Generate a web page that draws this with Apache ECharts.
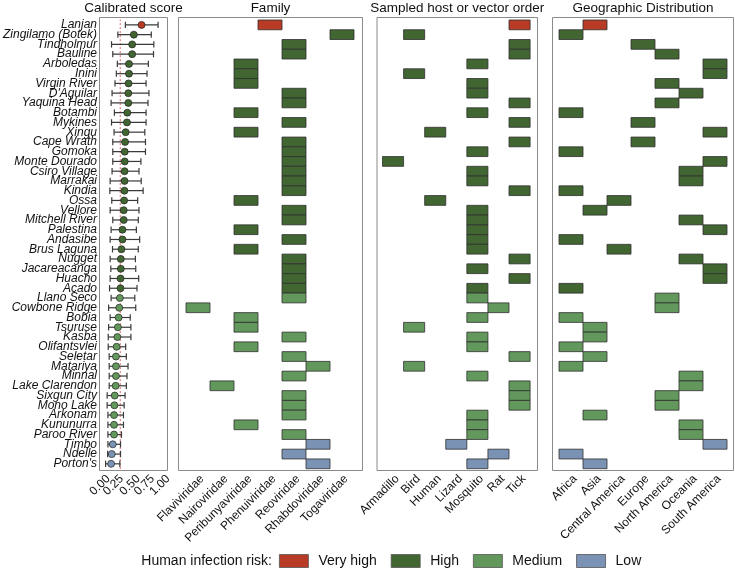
<!DOCTYPE html>
<html>
<head>
<meta charset="utf-8">
<script src="https://cdn.jsdelivr.net/npm/echarts@6/dist/echarts.min.js"></script>
<style>
  html, body { margin: 0; padding: 0; background: #fff; }
  #chart { width: 735px; height: 570px; }
</style>
</head>
<body>
<div id="chart"></div>
<script>
const viruses = ['Lanjan', 'Zingilamo (Botek)', 'Tindholmur', 'Bauline', 'Arboledas', 'Inini', 'Virgin River',
  "D'Aguilar", 'Yaquina Head', 'Botambi', 'Mykines', 'Xingu', 'Cape Wrath', 'Gomoka', 'Monte Dourado',
  'Csiro Village', 'Marrakai', 'Kindia', 'Ossa', 'Vellore', 'Mitchell River', 'Palestina', 'Andasibe',
  'Brus Laguna', 'Nugget', 'Jacareacanga', 'Huacho', 'Acado', 'Llano Seco', 'Cowbone Ridge', 'Bobia',
  'Tsuruse', 'Kasba', 'Olifantsvlei', 'Seletar', 'Matariya', 'Minnal', 'Lake Clarendon', 'Sixgun City',
  'Mono Lake', 'Arkonam', 'Kununurra', 'Paroo River', 'Timbo', 'Ndelle', "Porton's"];

const riskLevels = ['Very high', 'High', 'Medium', 'Low'];
const riskColors = ['#b83b26', '#416631', '#62985b', '#7a93b5'];

const virusRisk = ['Very high',
  'High', 'High', 'High', 'High', 'High', 'High', 'High', 'High', 'High', 'High', 'High', 'High', 'High', 'High',
  'High', 'High', 'High', 'High', 'High', 'High', 'High', 'High', 'High', 'High', 'High', 'High', 'High',
  'Medium', 'Medium', 'Medium', 'Medium', 'Medium', 'Medium', 'Medium', 'Medium', 'Medium', 'Medium', 'Medium',
  'Medium', 'Medium', 'Medium', 'Medium',
  'Low', 'Low', 'Low'];

const scoreMid = [0.626, 0.497, 0.469, 0.469, 0.416, 0.416, 0.409, 0.405, 0.405, 0.388, 0.383, 0.361, 0.351, 0.345,
  0.345, 0.342, 0.342, 0.340, 0.335, 0.328, 0.328, 0.307, 0.307, 0.291, 0.280, 0.280, 0.275, 0.275, 0.264, 0.254,
  0.243, 0.231, 0.222, 0.210, 0.199, 0.199, 0.199, 0.194, 0.178, 0.173, 0.167, 0.167, 0.167, 0.146, 0.129, 0.118];
const scoreLow = [0.356, 0.231, 0.125, 0.146, 0.222, 0.205, 0.183, 0.134, 0.118, 0.173, 0.125, 0.167, 0.146, 0.146,
  0.146, 0.134, 0.102, 0.097, 0.129, 0.102, 0.146, 0.118, 0.102, 0.141, 0.102, 0.113, 0.102, 0.092, 0.118, 0.076,
  0.102, 0.076, 0.070, 0.070, 0.086, 0.086, 0.086, 0.086, 0.052, 0.052, 0.065, 0.065, 0.065, 0.065, 0.060, 0.026];
const scoreHigh = [0.901, 0.788, 0.830, 0.825, 0.739, 0.717, 0.701, 0.749, 0.733, 0.701, 0.701, 0.680, 0.691, 0.691,
  0.615, 0.583, 0.620, 0.652, 0.561, 0.583, 0.571, 0.539, 0.594, 0.571, 0.523, 0.529, 0.578, 0.550, 0.513, 0.529,
  0.437, 0.448, 0.448, 0.361, 0.372, 0.400, 0.383, 0.372, 0.351, 0.335, 0.324, 0.324, 0.291, 0.275, 0.275, 0.264];
const thresholdScore = 0.27;

const families = ['Flaviviridae', 'Nairoviridae', 'Peribunyaviridae', 'Phenuiviridae', 'Reoviridae', 'Rhabdoviridae', 'Togaviridae'];
const virusFamily = ['Phenuiviridae', 'Togaviridae', 'Reoviridae', 'Reoviridae', 'Peribunyaviridae', 'Peribunyaviridae',
  'Peribunyaviridae', 'Reoviridae', 'Reoviridae', 'Peribunyaviridae', 'Reoviridae', 'Peribunyaviridae', 'Reoviridae',
  'Reoviridae', 'Reoviridae', 'Reoviridae', 'Reoviridae', 'Reoviridae', 'Peribunyaviridae', 'Reoviridae', 'Reoviridae',
  'Peribunyaviridae', 'Reoviridae', 'Peribunyaviridae', 'Reoviridae', 'Reoviridae', 'Reoviridae', 'Reoviridae',
  'Reoviridae', 'Flaviviridae', 'Peribunyaviridae', 'Peribunyaviridae', 'Reoviridae', 'Peribunyaviridae', 'Reoviridae',
  'Rhabdoviridae', 'Reoviridae', 'Nairoviridae', 'Reoviridae', 'Reoviridae', 'Reoviridae', 'Peribunyaviridae',
  'Reoviridae', 'Rhabdoviridae', 'Reoviridae', 'Rhabdoviridae'];

const hosts = ['Armadillo', 'Bird', 'Human', 'Lizard', 'Mosquito', 'Rat', 'Tick'];
const virusHost = ['Tick', 'Bird', 'Tick', 'Tick', 'Mosquito', 'Bird', 'Mosquito', 'Mosquito', 'Tick', 'Mosquito',
  'Tick', 'Human', 'Tick', 'Mosquito', 'Armadillo', 'Mosquito', 'Mosquito', 'Tick', 'Human', 'Mosquito', 'Mosquito',
  'Mosquito', 'Mosquito', 'Mosquito', 'Tick', 'Mosquito', 'Tick', 'Mosquito', 'Mosquito', 'Rat', 'Mosquito', 'Bird',
  'Mosquito', 'Mosquito', 'Tick', 'Bird', 'Mosquito', 'Tick', 'Tick', 'Tick', 'Mosquito', 'Mosquito', 'Mosquito',
  'Lizard', 'Rat', 'Mosquito'];

const regions = ['Africa', 'Asia', 'Central America', 'Europe', 'North America', 'Oceania', 'South America'];
const virusRegion = ['Asia', 'Africa', 'Europe', 'North America', 'South America', 'South America', 'North America',
  'Oceania', 'North America', 'Africa', 'Europe', 'South America', 'Europe', 'Africa', 'South America', 'Oceania',
  'Oceania', 'Africa', 'Central America', 'Asia', 'Oceania', 'South America', 'Africa', 'Central America', 'Oceania',
  'South America', 'South America', 'Africa', 'North America', 'North America', 'Africa', 'Asia', 'Asia', 'Africa',
  'Asia', 'Africa', 'Oceania', 'Oceania', 'North America', 'North America', 'Asia', 'Oceania', 'Oceania',
  'South America', 'Africa', 'Asia'];

const FONT = "'Liberation Sans', Arial, Helvetica, sans-serif";
const TEXT = '#111';

const chart = echarts.init(document.getElementById('chart'));

// panel areas (grid = where the rows/columns sit, box = the drawn frame)
const rowTop = 20, rowHeight = 448.7;
const scoreLeft = 102, scoreWidth = 62;   // pixel span of score 0..1
const panels = [
  { grid: { left: scoreLeft, width: scoreWidth }, box: [99.5, 17.5, 68, 453], title: 'Calibrated score' },
  { grid: { left: 186, width: 168 }, box: [178.5, 17.5, 184, 453], title: 'Family' },
  { grid: { left: 382.5, width: 147.6 }, box: [377, 17.5, 160.5, 453], title: 'Sampled host or vector order' },
  { grid: { left: 559, width: 168 }, box: [552.5, 17.5, 181, 453], title: 'Geographic Distribution' }
];

// rotated labels hang from their top-right corner, like ggplot's hjust = 1, vjust = 1
const catLabel = {
  rotate: 45, interval: 0, margin: 4, verticalAlign: 'top',
  fontSize: 12, color: TEXT, fontFamily: FONT
};
const scoreLabel = {
  rotate: 45, margin: 4, verticalAlign: 'top', fontSize: 12, color: TEXT, fontFamily: FONT,
  showMinLabel: true, showMaxLabel: true,
  formatter: v => (v >= 0 && v <= 1) ? v.toFixed(2) : ''
};

function renderTile(params, api) {
  const c = api.coord([api.value(0), api.value(1)]);
  const s = api.size([1, 1]);
  return {
    type: 'rect',
    shape: { x: c[0] - s[0] / 2, y: c[1] - s[1] / 2, width: s[0], height: s[1] },
    style: { fill: api.visual('color'), stroke: '#2e2e2e', lineWidth: 0.8 }
  };
}

function renderErrorBar(params, api) {
  const a = api.coord([api.value(0), api.value(2)]);
  const b = api.coord([api.value(1), api.value(2)]);
  const h = 3.2;
  const st = { stroke: '#3a3a3a', lineWidth: 1.2 };
  return {
    type: 'group',
    children: [
      { type: 'line', shape: { x1: a[0], y1: a[1], x2: b[0], y2: b[1] }, style: st },
      { type: 'line', shape: { x1: a[0], y1: a[1] - h, x2: a[0], y2: a[1] + h }, style: st },
      { type: 'line', shape: { x1: b[0], y1: b[1] - h, x2: b[0], y2: b[1] + h }, style: st }
    ]
  };
}

const series = [];

// dashed threshold line, drawn from the score axis
series.push({
  type: 'line',
  name: 'threshold',
  xAxisIndex: 0,
  yAxisIndex: 0,
  symbol: 'none',
  silent: true,
  z: 1,
  lineStyle: { color: '#e0675e', type: [2, 2], width: 1 },
  data: [[thresholdScore, -0.8], [thresholdScore, viruses.length - 0.3]]
});

series.push({
  type: 'custom',
  name: 'interval',
  xAxisIndex: 0,
  yAxisIndex: 0,
  renderItem: renderErrorBar,
  encode: { x: [0, 1], y: 2 },
  data: viruses.map((v, i) => [scoreLow[i], scoreHigh[i], i]),
  z: 2
});

riskLevels.forEach((lvl, r) => {
  const idx = viruses.map((v, i) => i).filter(i => virusRisk[i] === lvl);
  series.push({
    type: 'scatter',
    name: lvl,
    xAxisIndex: 0,
    yAxisIndex: 0,
    symbolSize: 7,
    z: 3,
    itemStyle: { color: riskColors[r], borderColor: '#222', borderWidth: 0.7, opacity: 1 },
    data: idx.map(i => [scoreMid[i], i])
  });

  const tileSets = [
    [1, families, virusFamily],
    [2, hosts, virusHost],
    [3, regions, virusRegion]
  ];
  tileSets.forEach(([p, cats, assign]) => {
    series.push({
      type: 'custom',
      name: lvl,
      xAxisIndex: p,
      yAxisIndex: p,
      renderItem: renderTile,
      itemStyle: { color: riskColors[r] },
      encode: { x: 0, y: 1 },
      data: idx.map(i => [cats.indexOf(assign[i]), i])
    });
  });
});

const graphics = [];
panels.forEach(p => {
  graphics.push({
    type: 'rect',
    z: 100,
    silent: true,
    shape: { x: p.box[0], y: p.box[1], width: p.box[2], height: p.box[3] },
    style: { fill: null, stroke: '#8a8a8a', lineWidth: 1 }
  });
  graphics.push({
    type: 'text',
    silent: true,
    x: p.box[0] + p.box[2] / 2,
    y: 8,
    style: { text: p.title, align: 'center', verticalAlign: 'middle', fontSize: 13.5, fontFamily: FONT, fill: TEXT }
  });
});
graphics.push({
  type: 'text',
  silent: true,
  x: 272,
  y: 561,
  style: { text: 'Human infection risk:', align: 'right', verticalAlign: 'middle', fontSize: 14, fontFamily: FONT, fill: TEXT }
});

const grids = panels.map(p => ({ left: p.grid.left, width: p.grid.width, top: rowTop, height: rowHeight }));
// twin of the score grid, shifted by a quarter unit, so the 0.25 / 0.75 labels get their own axis
grids.push({ left: scoreLeft - scoreWidth * 0.25, width: scoreWidth * 1.5, top: rowTop, height: rowHeight });

const option = {
  animation: false,
  backgroundColor: '#fff',
  grid: grids,
  xAxis: [
    {
      type: 'value', gridIndex: 0, min: 0, max: 1, interval: 0.5,
      splitLine: { show: false }, axisLine: { show: false }, axisTick: { show: false },
      axisLabel: scoreLabel
    },
    { type: 'category', gridIndex: 1, data: families, axisLine: { show: false }, axisTick: { show: false }, axisLabel: catLabel },
    { type: 'category', gridIndex: 2, data: hosts, axisLine: { show: false }, axisTick: { show: false }, axisLabel: catLabel },
    { type: 'category', gridIndex: 3, data: regions, axisLine: { show: false }, axisTick: { show: false }, axisLabel: catLabel },
    {
      type: 'value', gridIndex: 4, min: -0.25, max: 1.25, interval: 0.5,
      splitLine: { show: false }, axisLine: { show: false }, axisTick: { show: false },
      axisLabel: scoreLabel
    }
  ],
  yAxis: [0, 1, 2, 3, 4].map(g => ({
    type: 'category',
    gridIndex: g,
    data: viruses,
    inverse: true,
    show: g < 4,
    axisLine: { show: false },
    axisTick: { show: false },
    splitLine: { show: false },
    axisLabel: g === 0
      ? { show: true, interval: 0, margin: 7, fontSize: 12, fontStyle: 'italic', color: TEXT, fontFamily: FONT }
      : { show: false }
  })),
  legend: {
    data: riskLevels.map(n => ({ name: n, icon: 'rect' })),
    left: 279,
    top: 554,
    padding: 0,
    itemWidth: 29,
    itemHeight: 13,
    itemGap: 14,
    selectedMode: false,
    itemStyle: { borderColor: '#555', borderWidth: 0.8 },
    textStyle: { fontSize: 14, color: TEXT, fontFamily: FONT, padding: [0, 0, 0, 5] }
  },
  graphic: graphics,
  series: series
};

chart.setOption(option);
</script>
</body>
</html>
